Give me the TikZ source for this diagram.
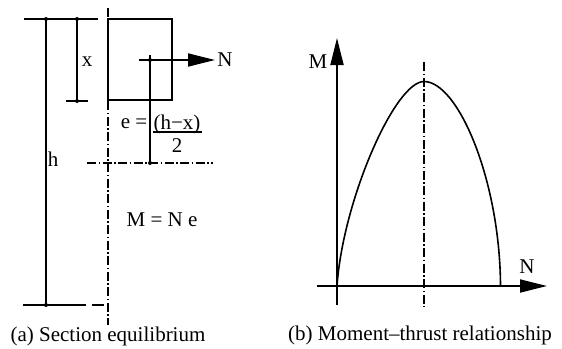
\documentclass[tikz,border=0pt]{standalone}
\usepackage{fontspec}
\setmainfont{Liberation Serif}
\usetikzlibrary{arrows.meta}
\begin{document}
\begin{tikzpicture}[x=1pt,y=-1pt,
  thinline/.style={line width=1.6pt},
  centreline/.style={line width=1.1pt, dash pattern=on 9pt off 2.5pt on 1.5pt off 2.5pt},
  dotmark/.style={circle, fill, inner sep=0pt, minimum size=4pt},
  lbl/.style={font=\fontsize{21}{24}\selectfont, inner sep=0pt},
  bigarrow/.style={-{Triangle[length=27pt,width=13pt]}, line width=1.8pt},
]
\useasboundingbox (0,0) rectangle (562,348);

% ---------- (a) section equilibrium ----------
\coordinate (topL) at (24,19);
\coordinate (topR) at (98,19);
\coordinate (hT) at (46,19);
\coordinate (hB) at (46,305);
\coordinate (xT) at (77,19);
\coordinate (xB) at (77,101);
\coordinate (xBL) at (66,101);
\coordinate (xBR) at (88,101);
\coordinate (botL) at (23,305);
\coordinate (botM) at (86,305);
\coordinate (botD1) at (92,305);
\coordinate (botD2) at (104,305);
\coordinate (cT) at (108,8);
\coordinate (cB) at (108,325);
\coordinate (cL) at (87,163);
\coordinate (cR) at (213,163);
\coordinate (eT) at (150,55);
\coordinate (eB) at (150,163);
\coordinate (nS) at (139,60);
\coordinate (nE) at (215,60);
\coordinate (secA) at (108,19);
\coordinate (secB) at (172,100);

\draw[centreline] (cT) -- (cB);
\draw[centreline] (cL) -- (cR);
\draw[thinline] (secA) rectangle (secB);
\draw[thinline] (topL) -- (topR);
\draw[thinline] (hT) -- (hB);
\draw[thinline] (xT) -- (xB);
\draw[thinline] (xBL) -- (xBR);
\draw[thinline] (botL) -- (botM);
\draw[thinline] (botD1) -- (botD2);
\draw[thinline] (eT) -- (eB);
\draw[bigarrow] (nS) -- (nE);

\node[dotmark] (d1) at (hT) {};
\node[dotmark] (d2) at (xT) {};
\node[dotmark] (d3) at (xB) {};
\node[dotmark] (d4) at (hB) {};
\node[dotmark] (d5) at (150,60) {};
\node[dotmark] (d6) at (eB) {};

\node[lbl] (lx) at (87,62) {x};
\node[lbl] (lh) at (53,159) {h};
\node[lbl] (lN) at (225,60) {N};
\node[lbl] (leq) at (134,124) {e =};
\node[lbl] (lnum) at (177,124) {(h−x)};
\node[lbl] (lden) at (177,146) {2};
\coordinate (barL) at (153,132);
\coordinate (barR) at (202,132);
\draw[line width=1.2pt] (barL) -- (barR);
\node[lbl] (lM) at (162,220) {M = N e};
\node[lbl] (capA) at (108,336) {(a) Section equilibrium};

% ---------- (b) moment-thrust relationship ----------
\coordinate (mB) at (337,305);
\coordinate (mT) at (337,38);
\coordinate (aL) at (317,286);
\coordinate (aR) at (547,286);
\coordinate (vT) at (424,62);
\coordinate (vB) at (424,307);
\coordinate (c0) at (337,286);
\coordinate (cP) at (424,81.5);
\coordinate (c4) at (500.5,286);

\draw[centreline] (vT) -- (vB);
\draw[bigarrow] (mB) -- (mT);
\draw[bigarrow] (aL) -- (aR);
\draw[thinline] (c0) .. controls (343,200) and (395,81.5) .. (cP)
  .. controls (458,81.5) and (500,180) .. (c4);

\node[lbl] (lM2) at (318,62) {M};
\node[lbl] (lN2) at (527,267) {N};
\node[lbl] (capB) at (420,335) {(b) Moment–thrust relationship};
\end{tikzpicture}
\end{document}
